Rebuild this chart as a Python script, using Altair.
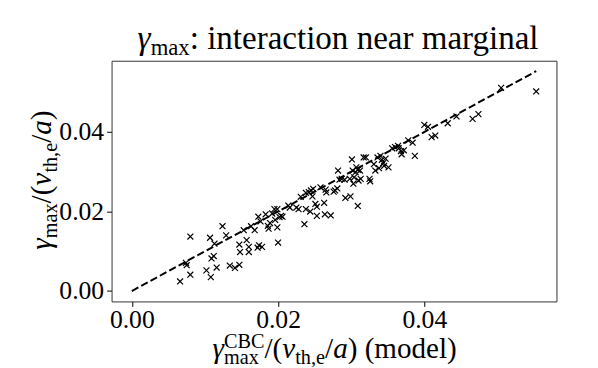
import altair as alt
import pandas as pd

# Model growth rate (x) vs simulated growth rate (y)
x_model = [0.0066, 0.0080, 0.0074, 0.0075, 0.0080, 0.0102, 0.0108, 0.0107, 0.0109, 0.0112,
           0.0113, 0.0116, 0.0124, 0.0129, 0.0134, 0.0141, 0.0147, 0.0147, 0.0148, 0.0153,
           0.0157, 0.0160, 0.0160, 0.0163, 0.0168, 0.0172, 0.0174, 0.0178, 0.0173, 0.0176,
           0.0183, 0.0186, 0.0187, 0.0189, 0.0192, 0.0195, 0.0196, 0.0199, 0.0199, 0.0200,
           0.0202, 0.0204, 0.0206, 0.0214, 0.0216, 0.0225, 0.0228, 0.0231, 0.0236, 0.0238,
           0.0238, 0.0242, 0.0244, 0.0247, 0.0248, 0.0245, 0.0251, 0.0253, 0.0253, 0.0258,
           0.0263, 0.0264, 0.0265, 0.0266, 0.0272, 0.0276, 0.0278, 0.0281, 0.0282, 0.0284,
           0.0287, 0.0291, 0.0292, 0.0298, 0.0299, 0.0301, 0.0302, 0.0303, 0.0304, 0.0306,
           0.0307, 0.0309, 0.0309, 0.0310, 0.0312, 0.0313, 0.0317, 0.0320, 0.0325, 0.0326,
           0.0331, 0.0333, 0.0336, 0.0338, 0.0340, 0.0342, 0.0344, 0.0345, 0.0347, 0.0351,
           0.0356, 0.0360, 0.0364, 0.0365, 0.0368, 0.0369, 0.0372, 0.0378, 0.0384, 0.0387,
           0.0400, 0.0405, 0.0410, 0.0415, 0.0432, 0.0444, 0.0466, 0.0474, 0.0505, 0.0553]
y_sim = [0.0024, 0.0137, 0.0071, 0.0065, 0.0041, 0.0052, 0.0035, 0.0134, 0.0082, 0.0088,
         0.0119, 0.0059, 0.0163, 0.0140, 0.0064, 0.0058, 0.0066, 0.0117, 0.0098, 0.0153,
         0.0128, 0.0111, 0.0098, 0.0163, 0.0153, 0.0109, 0.0115, 0.0111, 0.0187, 0.0175,
         0.0193, 0.0164, 0.0157, 0.0171, 0.0195, 0.0206, 0.0179, 0.0206, 0.0160, 0.0122,
         0.0186, 0.0189, 0.0187, 0.0215, 0.0210, 0.0210, 0.0206, 0.0237, 0.0168, 0.0206,
         0.0247, 0.0249, 0.0200, 0.0238, 0.0257, 0.0253, 0.0219, 0.0212, 0.0189, 0.0261,
         0.0222, 0.0193, 0.0255, 0.0248, 0.0190, 0.0250, 0.0253, 0.0258, 0.0303, 0.0280,
         0.0282, 0.0280, 0.0234, 0.0282, 0.0238, 0.0331, 0.0303, 0.0270, 0.0286, 0.0299,
         0.0311, 0.0305, 0.0214, 0.0278, 0.0303, 0.0282, 0.0336, 0.0336, 0.0282, 0.0276,
         0.0319, 0.0303, 0.0336, 0.0309, 0.0340, 0.0330, 0.0322, 0.0315, 0.0333, 0.0311,
         0.0359, 0.0362, 0.0365, 0.0359, 0.0352, 0.0344, 0.0354, 0.0379, 0.0373, 0.0340,
         0.0418, 0.0413, 0.0387, 0.0391, 0.0422, 0.0439, 0.0433, 0.0445, 0.0511, 0.0502]

# y = x reference line
line_x = [0.0, 0.0553]
line_y = [0.0, 0.0553]

x_ticks = [0.0, 0.02, 0.04]
y_ticks = [0.0, 0.02, 0.04]

FONT = "Liberation Serif"

pts = pd.DataFrame({"x": x_model, "y": y_sim})
line_df = pd.DataFrame({"x": line_x, "y": line_y})
one = pd.DataFrame({"k": [0]})

xs = alt.Scale(domain=[-0.00277, 0.05807], nice=False, zero=False)
ys = alt.Scale(domain=[-0.00262, 0.05792], nice=False, zero=False)

x_axis = alt.Axis(values=x_ticks, format=".2f", title="", grid=False, domain=False,
                  tickSize=5, tickColor="black", labelPadding=0)
y_axis = alt.Axis(values=y_ticks, format=".2f", title="", grid=False, domain=False,
                  tickSize=5, tickColor="black", labelPadding=3)

line = alt.Chart(line_df).mark_line(color="black", strokeDash=[7.5, 3.3], strokeWidth=2).encode(
    x=alt.X("x:Q", scale=xs, axis=x_axis),
    y=alt.Y("y:Q", scale=ys, axis=y_axis),
)

points = alt.Chart(pts).mark_point(
    shape="M-1,-1L1,1M-1,1L1,-1", size=36, color="black", strokeWidth=1.2, filled=False, opacity=1
).encode(
    x=alt.X("x:Q", scale=xs),
    y=alt.Y("y:Q", scale=ys),
)


def piece(text, px, py, size, align="left", italic=False, angle=0):
    kw = dict(text=text, font=FONT, fontSize=size, align=align, baseline="alphabetic",
              color="black", clip=False)
    if italic:
        kw["fontStyle"] = "italic"
    if angle:
        kw["angle"] = angle
    return alt.Chart(one).mark_text(**kw).encode(x=alt.value(px), y=alt.value(py))


# ---- title: γ_max: interaction near marginal (positions relative to plot origin)
T, t = 33.5, 23
tb = -12
title_parts = [
    piece("γ", 39.6, tb, T, align="right", italic=True),
    piece("max", 39.6, tb + 6.5, t),
    piece(": interaction near marginal", 79.2, tb, T),
]

# ---- x-axis title: γ_max^CBC/(v_th,e/a) (model)
S, s = 29.5, 20.5
xb = 301
xo = -1.0
xt_parts = [
    piece("γ", 114.9 + xo, xb, S, align="right", italic=True),
    piece("max", 114.9 + xo, xb + 6, s),
    piece("CBC", 114.9 + xo, xb - 9.5, s),
    piece("/(", 156.0 + xo, xb, S),
    piece("v", 174.0 + xo, xb, S, italic=True),
    piece("th,e", 187.2 + xo, xb + 6, s),
    piece("/", 217.4 + xo, xb, S),
    piece("a", 225.6 + xo, xb, S, italic=True),
    piece(") (model)", 240.4 + xo, xb, S),
]

# ---- y-axis title: γ_max/(v_th,e/a), rotated
yb = -61.3
yt_parts = [
    piece("γ", yb, 179.85, S, align="right", italic=True, angle=270),
    piece("max", yb + 6, 179.85, s, angle=270),
    piece("/(", yb, 144.6, S, angle=270),
    piece("v", yb, 126.6, S, italic=True, angle=270),
    piece("th,e", yb + 6, 113.4, s, angle=270),
    piece("/", yb, 83.2, S, angle=270),
    piece("a", yb, 75.0, S, italic=True, angle=270),
    piece(")", yb, 60.2, S, angle=270),
]

chart = alt.layer(line, points, *title_parts, *xt_parts, *yt_parts).properties(
    width=451,
    height=244,
    autosize=alt.AutoSizeParams(type="none"),
    padding={"left": 105, "top": 51, "right": 34, "bottom": 65},
).configure_view(
    stroke="#333", strokeWidth=1
).configure_axis(
    labelFont=FONT, labelFontSize=26, labelColor="black",
)

chart.save("out.html", embed_options={"renderer": "svg", "actions": False})
